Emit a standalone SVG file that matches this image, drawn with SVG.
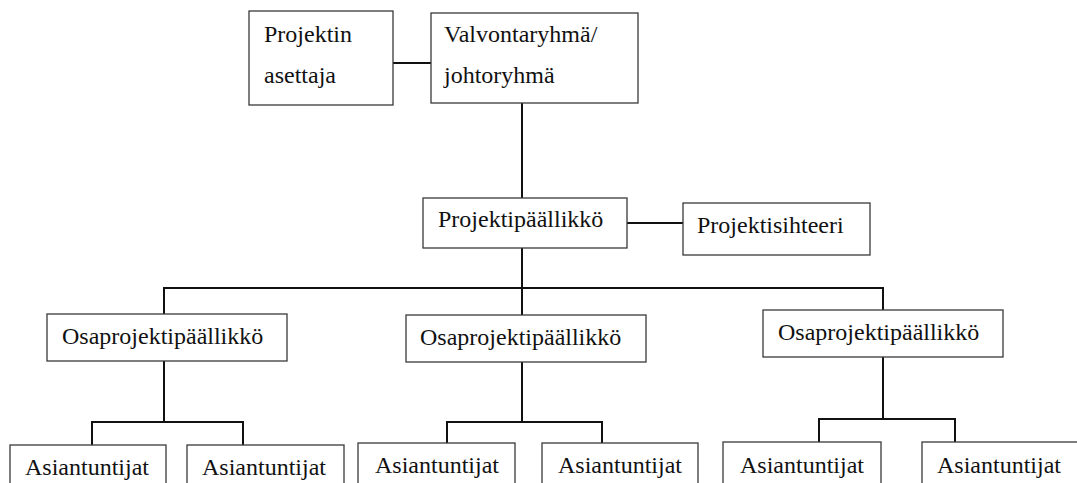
<svg xmlns="http://www.w3.org/2000/svg" width="1077" height="483" viewBox="0 0 1077 483">
  <style>
    .box { fill: #ffffff; stroke: #3a3a3a; stroke-width: 1.3; }
    .lbl { font-family: "Liberation Serif", "Times New Roman", serif; font-size: 24px; fill: #111111; }
    .wire { fill: none; stroke: #111111; stroke-width: 2; }
  </style>
  <rect width="1077" height="483" fill="#ffffff"/>

  <!-- connectors -->
  <g id="connectors">
    <path class="wire" d="M393 63 H431"/>
    <path class="wire" d="M522 103 V198"/>
    <path class="wire" d="M627 223 H683"/>
    <path class="wire" d="M522 248 V315"/>
    <path class="wire" d="M164 314 V288 H883 V310"/>
    <!-- branch 1 -->
    <path class="wire" d="M164 361 V422"/>
    <path class="wire" d="M92 445 V422 H243 V445"/>
    <!-- branch 2 -->
    <path class="wire" d="M522 362 V422"/>
    <path class="wire" d="M447 443 V422 H602 V443"/>
    <!-- branch 3 -->
    <path class="wire" d="M883 357 V419"/>
    <path class="wire" d="M819 442 V419 H955 V442"/>
  </g>

  <g id="projektin-asettaja">
    <rect class="box" x="249" y="11" width="144" height="94"/>
    <text class="lbl" x="264" y="42">Projektin</text>
    <text class="lbl" x="264" y="83">asettaja</text>
  </g>

  <g id="valvontaryhma">
    <rect class="box" x="431" y="13" width="207" height="90"/>
    <text class="lbl" x="444" y="42">Valvontaryhmä/</text>
    <text class="lbl" x="444" y="83">johtoryhmä</text>
  </g>

  <g id="projektipaallikko">
    <rect class="box" x="423" y="198" width="204" height="50"/>
    <text class="lbl" x="438" y="227">Projektipäällikkö</text>
  </g>

  <g id="projektisihteeri">
    <rect class="box" x="683" y="203" width="187" height="52"/>
    <text class="lbl" x="697" y="233">Projektisihteeri</text>
  </g>

  <g id="osaprojektipaallikko-1">
    <rect class="box" x="47" y="314" width="240" height="47"/>
    <text class="lbl" x="62" y="344">Osaprojektipäällikkö</text>
  </g>

  <g id="osaprojektipaallikko-2">
    <rect class="box" x="406" y="315" width="240" height="47"/>
    <text class="lbl" x="420" y="345">Osaprojektipäällikkö</text>
  </g>

  <g id="osaprojektipaallikko-3">
    <rect class="box" x="763" y="310" width="240" height="47"/>
    <text class="lbl" x="778" y="340">Osaprojektipäällikkö</text>
  </g>

  <g id="asiantuntijat-1">
    <rect class="box" x="10" y="445" width="156" height="50"/>
    <text class="lbl" x="25" y="475">Asiantuntijat</text>
  </g>
  <g id="asiantuntijat-2">
    <rect class="box" x="187" y="445" width="157" height="50"/>
    <text class="lbl" x="202" y="475">Asiantuntijat</text>
  </g>
  <g id="asiantuntijat-3">
    <rect class="box" x="358" y="443" width="157" height="50"/>
    <text class="lbl" x="375" y="473">Asiantuntijat</text>
  </g>
  <g id="asiantuntijat-4">
    <rect class="box" x="542" y="443" width="156" height="50"/>
    <text class="lbl" x="558" y="473">Asiantuntijat</text>
  </g>
  <g id="asiantuntijat-5">
    <rect class="box" x="723" y="442" width="158" height="50"/>
    <text class="lbl" x="740" y="473">Asiantuntijat</text>
  </g>
  <g id="asiantuntijat-6">
    <rect class="box" x="922" y="442" width="160" height="50"/>
    <text class="lbl" x="937" y="473">Asiantuntijat</text>
  </g>
</svg>
